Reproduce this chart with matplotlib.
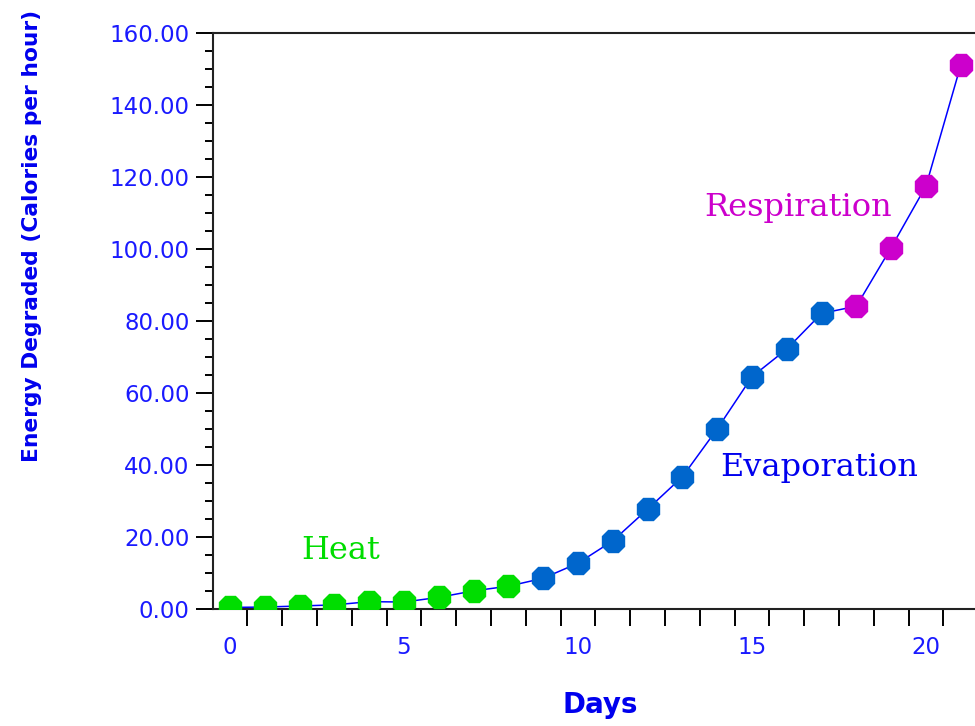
import matplotlib
matplotlib.use("Agg")
import matplotlib.pyplot as plt
from matplotlib.ticker import MultipleLocator, FixedLocator, FormatStrFormatter

# ---- data ----
days = list(range(22))
energy = [0.3, 0.4, 0.7, 1.0, 1.9, 1.8, 3.1, 4.9, 6.2,
          8.4, 12.6, 18.8, 27.6, 36.6, 49.9, 64.4, 72.1, 82.0,
          84.0, 100.3, 117.4, 151.0]
phase = ["Heat"] * 9 + ["Evaporation"] * 9 + ["Respiration"] * 4
phase_colors = {"Heat": "#00dd00", "Evaporation": "#0066cc", "Respiration": "#cc00cc"}
label_pos = {"Heat": (3.19, 16.0), "Evaporation": (16.93, 39.3), "Respiration": (16.32, 111.5)}
x_tick_labels = [0, 5, 10, 15, 20]
xlabel = "Days"
ylabel = "Energy Degraded (Calories per hour)"

axis_blue = "#1a1aff"

fig = plt.figure(figsize=(9.75, 7.26), dpi=100)
ax = fig.add_axes([213 / 975, 1 - 608.5 / 726, 1 - 213 / 975, (608.5 - 32.7) / 726])

ax.plot(days, energy, color="#0000ff", lw=1.1, zorder=2)
for p, col in phase_colors.items():
    xs = [d for d, ph in zip(days, phase) if ph == p]
    ys = [e for e, ph in zip(energy, phase) if ph == p]
    ax.plot(xs, ys, linestyle="none", marker="8", markersize=17,
            color=col, markeredgecolor=col, zorder=3)

for p, (tx, ty) in label_pos.items():
    ax.text(tx, ty, p, color="#0000ee" if p == "Evaporation" else phase_colors[p],
            fontsize=23, family="DejaVu Serif", ha="center", va="center")

ax.set_xlim((213 - 230) / 34.8, (975 - 230) / 34.8)
ax.set_ylim(0, 160)

# x axis: labels at integers, tick marks at half-days
ax.xaxis.set_major_locator(FixedLocator(x_tick_labels))
ax.xaxis.set_minor_locator(FixedLocator([d - 0.5 for d in range(23)]))
ax.tick_params(axis="x", which="major", length=0, pad=20, labelsize=16.5, labelcolor=axis_blue)
ax.tick_params(axis="x", which="minor", length=12, width=1.4, direction="out", color="black")

# y axis
ax.yaxis.set_major_locator(MultipleLocator(20))
ax.yaxis.set_minor_locator(MultipleLocator(5))
ax.yaxis.set_major_formatter(FormatStrFormatter("%.2f"))
ax.tick_params(axis="y", which="major", length=12, width=1.4, direction="out", pad=5,
               labelsize=16.5, labelcolor=axis_blue)
ax.tick_params(axis="y", which="minor", length=6, width=1.4, direction="out")

for s in ["top", "left", "bottom"]:
    ax.spines[s].set_linewidth(1.5)
    ax.spines[s].set_color("#222222")
ax.spines["right"].set_visible(False)

fig.text(600 / 975, 1 - 705 / 726, xlabel, fontsize=20, fontweight="bold",
         color="#0000ee", ha="center", va="center")
fig.text(32 / 975, 1 - 236 / 726, ylabel, fontsize=15.7, fontweight="bold",
         color="#0000ee", ha="center", va="center", rotation=90)

fig.savefig("out.png", dpi=100)
